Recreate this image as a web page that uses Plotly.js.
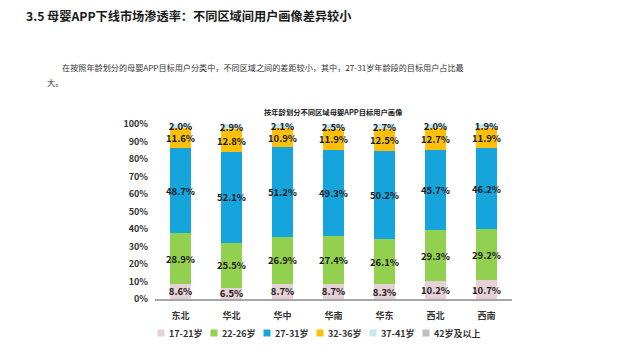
<!DOCTYPE html>
<html>
<head>
<meta charset="utf-8">
<script src="https://cdn.plot.ly/plotly-3.0.1.min.js"></script>
<style>
  html, body { margin: 0; padding: 0; background: #fff; }
  #chart { width: 640px; height: 360px; }
</style>
</head>
<body>
<div id="chart"></div>
<script>
const regions = ['东北', '华北', '华中', '华南', '华东', '西北', '西南'];
const age17_21 = [8.6, 6.5, 8.7, 8.7, 8.3, 10.2, 10.7];
const age22_26 = [28.9, 25.5, 26.9, 27.4, 26.1, 29.3, 29.2];
const age27_31 = [48.7, 52.1, 51.2, 49.3, 50.2, 45.7, 46.2];
const age32_36 = [11.6, 12.8, 10.9, 11.9, 12.5, 12.7, 11.9];
const age37_41 = [2.0, 2.9, 2.1, 2.5, 2.7, 2.0, 1.9];
const age42plus = [0.2, 0.2, 0.2, 0.2, 0.2, 0.1, 0.1];
const seriesNames = ['17-21岁', '22-26岁', '27-31岁', '32-36岁', '37-41岁', '42岁及以上'];
const yTickVals = [0, 10, 20, 30, 40, 50, 60, 70, 80, 90, 100];
const yTickText = ['0%', '10%', '20%', '30%', '40%', '50%', '60%', '70%', '80%', '90%', '100%'];

const colors = ['#e6d1d7', '#92d050', '#16a4dc', '#fcc00a', '#c5e8f0', '#bfbfbf'];
const seriesValues = [age17_21, age22_26, age27_31, age32_36, age37_41, age42plus];
const showText = [true, true, true, true, true, false];

const FONT = '"Noto Sans CJK SC", "Noto Sans", sans-serif';

// plot area in pixels
const PL = 155, PR = 512, PT = 124, PB = 299;
const PW = PR - PL, PH = PB - PT;
const px = x => (x - PL) / PW;
const py = y => (PB - y) / PH;

const traces = seriesValues.map((vals, i) => ({
  type: 'bar',
  name: seriesNames[i],
  x: regions,
  y: vals,
  marker: { color: colors[i], line: { width: 0 } },
  text: showText[i] ? vals.map(v => v.toFixed(1) + '%') : vals.map(() => ''),
  textposition: 'inside',
  insidetextanchor: 'middle',
  textangle: 0,
  constraintext: 'none',
  cliponaxis: false,
  textfont: { family: FONT, size: 9.5, color: '#1a1a1a', weight: 'bold' },
  hoverinfo: 'skip',
  showlegend: false
}));

const annotations = [
  {
    xref: 'paper', yref: 'paper', x: 0.5, y: 1.0, yshift: 12,
    xanchor: 'center', yanchor: 'middle', showarrow: false,
    text: '<b>按年龄划分不同区域母婴APP目标用户画像</b>',
    font: { family: FONT, size: 7.3, color: '#222222' }
  },
  {
    xref: 'paper', yref: 'paper', x: px(24), y: py(16),
    xanchor: 'left', yanchor: 'middle', showarrow: false,
    text: '<b>3.5 母婴APP下线市场渗透率：不同区域间用户画像差异较小</b>',
    font: { family: FONT, size: 12.2, color: '#1a1a1a' }
  },
  {
    xref: 'paper', yref: 'paper', x: px(60), y: py(67),
    xanchor: 'left', yanchor: 'middle', showarrow: false,
    text: '在按照年龄划分的母婴APP目标用户分类中，不同区域之间的差距较小，其中，27-31岁年龄段的目标用户占比最',
    font: { family: FONT, size: 8.15, color: '#333333' }
  },
  {
    xref: 'paper', yref: 'paper', x: px(45), y: py(82),
    xanchor: 'left', yanchor: 'middle', showarrow: false,
    text: '大。',
    font: { family: FONT, size: 8.15, color: '#333333' }
  }
];

// custom legend (small square markers + labels)
const legendX0 = 161, legendStep = 53, legendY = 333, sq = 3.5;
const shapes = [];
seriesNames.forEach((name, i) => {
  const cx = legendX0 + legendStep * i;
  shapes.push({
    type: 'rect', xref: 'paper', yref: 'paper',
    x0: px(cx - sq), x1: px(cx + sq), y0: py(legendY + sq), y1: py(legendY - sq),
    fillcolor: colors[i], line: { width: 0 }
  });
  annotations.push({
    xref: 'paper', yref: 'paper', x: px(cx + 6), y: py(legendY),
    xanchor: 'left', yanchor: 'middle', showarrow: false,
    text: '<b>' + name + '</b>',
    font: { family: FONT, size: 9, color: '#333333' }
  });
});

const layout = {
  width: 640,
  height: 360,
  margin: { l: PL, r: 640 - PR, t: PT, b: 360 - PB },
  paper_bgcolor: '#ffffff',
  plot_bgcolor: '#ffffff',
  barmode: 'stack',
  bargap: 0.58,
  showlegend: false,
  font: { family: FONT, color: '#333333' },
  xaxis: {
    showgrid: false,
    zeroline: false,
    showline: true,
    linecolor: '#a6a6a6',
    linewidth: 1.5,
    ticks: '',
    tickfont: { family: FONT, size: 9, color: '#333333', weight: 'bold' },
    ticklabelstandoff: 8,
    fixedrange: true
  },
  yaxis: {
    range: [0, 100],
    tickvals: yTickVals,
    ticktext: yTickText,
    showgrid: false,
    zeroline: false,
    showline: false,
    ticks: '',
    ticklabelstandoff: 6,
    tickfont: { family: FONT, size: 9, color: '#333333', weight: 'bold' },
    fixedrange: true
  },
  annotations: annotations,
  shapes: shapes
};

Plotly.newPlot('chart', traces, layout, { staticPlot: true, displayModeBar: false });
</script>
</body>
</html>
